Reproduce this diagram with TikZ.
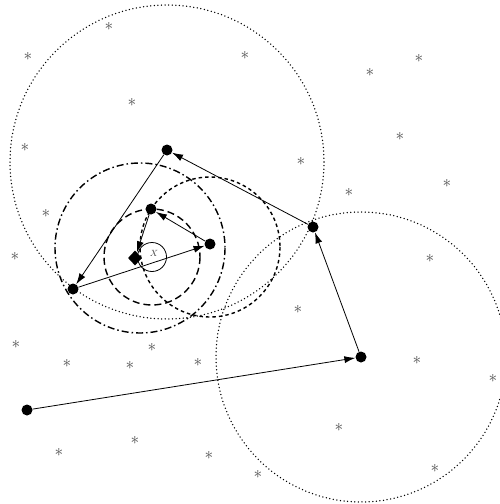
\documentclass[tikz,border=0pt]{standalone}
\usetikzlibrary{arrows.meta,shapes.geometric}
\tikzset{
  dot/.style={circle,fill=black,inner sep=0pt,minimum size=11pt},
  dmd/.style={diamond,fill=black,inner sep=0pt,minimum width=14pt,minimum height=15pt},
  arr/.style={line width=0.8pt,-{Latex[length=11pt,width=7pt]}},
  ast/.style={inner sep=0pt,text=black!70,font=\LARGE},
  dotc/.style={line width=1.5pt,line cap=round,dash pattern=on 0pt off 3.6pt},
  dashdotc/.style={line width=1.4pt,dash pattern=on 7pt off 3pt on 1.5pt off 3pt},
  dashc/.style={line width=1.4pt,dash pattern=on 7pt off 4pt},
  sdashc/.style={line width=1.4pt,dash pattern=on 3.5pt off 3pt},
}
\begin{document}
\begin{tikzpicture}[x=1pt,y=-1pt]
\useasboundingbox (0,0) rectangle (500,504);
\begin{scope}
\clip (0,0) rectangle (500,504);
% circles
\draw[dotc] (167,162) circle (157);
\draw[dotc] (361,357) circle (145);
\draw[dashdotc] (140,248) circle (85);
\draw[dashc] (152,257) circle (48);
\draw[sdashc] (210,247) circle (70);
\end{scope}
\node[circle,draw,line width=0.8pt,minimum size=29pt,inner sep=0pt] (x) at (152,257) {};
\node[font=\small,text=black!75] (xl) at (154,253) {$X$};
% points
\node[dot] (p0) at (27,410) {};
\node[dot] (p1) at (361,357) {};
\node[dot] (p2) at (313,227) {};
\node[dot] (p3) at (167,150) {};
\node[dot] (p4) at (73,289) {};
\node[dot] (p5) at (210,244) {};
\node[dot] (p6) at (151,209) {};
\node[dmd] (p7) at (135,258) {};
% arrows
\draw[arr] (p0) -- (p1);
\draw[arr] (p1) -- (p2);
\draw[arr] (p2) -- (p3);
\draw[arr] (p3) -- (p4);
\draw[arr] (p4) -- (p5);
\draw[arr] (p5) -- (p6);
\draw[arr] (p6) -- (p7);
% asterisks
\foreach \i/\xx/\yy in {1/28/56,2/109/26,3/132/102,4/25/147,5/46/213,6/245/55,
  7/370/72,8/419/58,9/400/136,10/447/183,11/301/161,12/349/192,
  13/15/256,14/16/344,15/67/363,16/130/365,17/152/347,18/198/362,
  19/59/452,20/135/440,21/209/455,
  22/430/258,23/298/309,24/417/360,25/493/378,26/339/427,27/435/468,28/258/474}
  \node[ast] (s\i) at (\xx,\yy) {$\ast$};
\end{tikzpicture}
\end{document}
